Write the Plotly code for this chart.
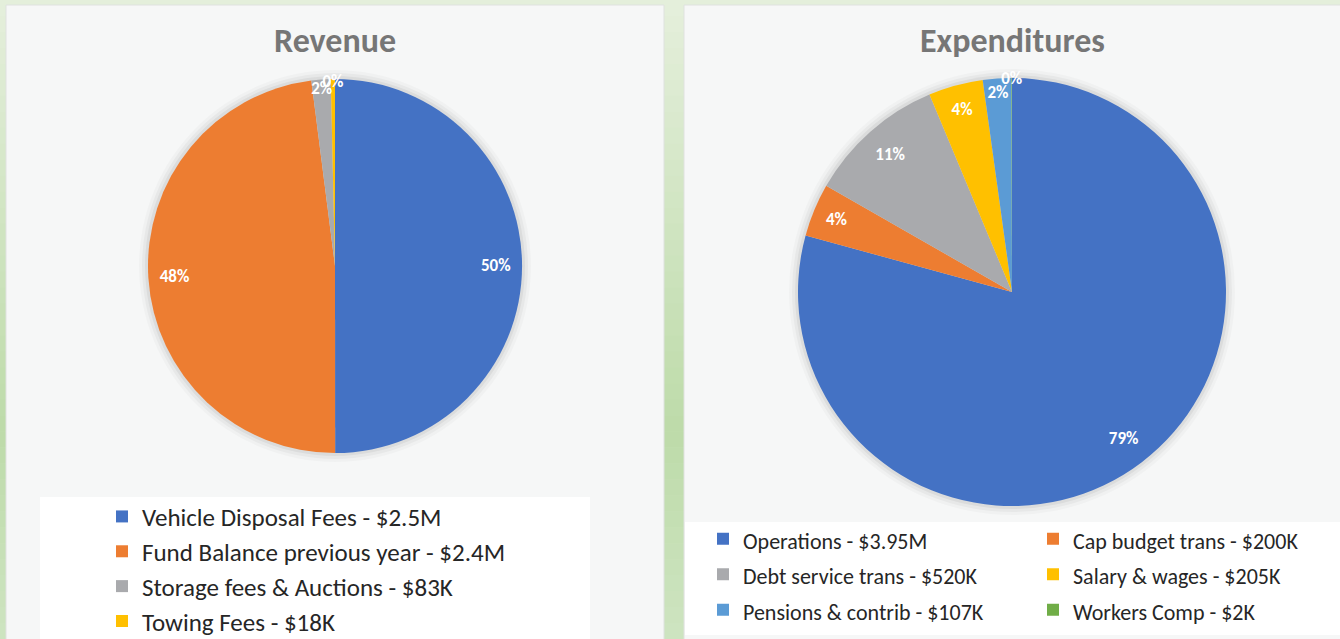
import plotly.graph_objects as go

W, H = 1340, 639

# ---------------- data ----------------
rev_title = "Revenue"
rev_labels = ["Vehicle Disposal Fees - $2.5M", "Fund Balance previous year - $2.4M",
              "Storage fees & Auctions - $83K", "Towing Fees - $18K"]
rev_values = [2500, 2400, 83, 18]          # $K
rev_pct_text = ["50%", "48%", "2%", "0%"]
rev_colors = ["#4472C4", "#ED7D31", "#A9AAAD", "#FFC000"]

exp_title = "Expenditures"
exp_labels = ["Operations - $3.95M", "Cap budget trans - $200K", "Debt service trans - $520K",
              "Salary & wages - $205K", "Pensions & contrib - $107K", "Workers Comp - $2K"]
exp_values = [3950, 200, 520, 205, 107, 2]  # $K
exp_pct_text = ["79%", "4%", "11%", "4%", "2%", "0%"]
exp_colors = ["#4472C4", "#ED7D31", "#A9AAAD", "#FFC000", "#5B9BD5", "#70AD47"]

LEG_FONT = "Calibri, Carlito, Lato, 'Noto Sans', sans-serif"
TITLE_FONT = "Calibri, Carlito, Lato, 'Open Sans', sans-serif"


def px(x):
    return x / W


def py(y):
    return 1 - y / H


def styled(names, size):
    return [f"<span style='font-size:{size}px'>{n}</span>" for n in names]


fig = go.Figure()

REV_DOM = dict(x=[px(148), px(522)], y=[py(453), py(79)])
EXP_DOM = dict(x=[px(798), px(1226)], y=[py(506), py(78)])

for labels, values, colors, dom, leg, name, fs in [
    (rev_labels, rev_values, rev_colors, REV_DOM, "legend", rev_title, 25),
    (exp_labels, exp_values, exp_colors, EXP_DOM, "legend2", exp_title, 22),
]:
    fig.add_trace(go.Pie(
        labels=styled(labels, fs), values=values, textinfo="none",
        marker=dict(colors=colors, line=dict(width=0)),
        sort=False, direction="clockwise", rotation=0,
        domain=dom, legend=leg, hoverinfo="label+percent", name=name,
    ))

# percentage labels: transparent ring over each pie so the text sits near the rim
for labels, values, texts, dom in [
    (rev_labels, rev_values, rev_pct_text, REV_DOM),
    (exp_labels, exp_values, exp_pct_text, EXP_DOM),
]:
    fig.add_trace(go.Pie(
        labels=labels, values=values, text=texts, hole=0.72,
        textinfo="text", textposition="inside", insidetextorientation="horizontal",
        textfont=dict(family=TITLE_FONT, size=17, color="white", weight="bold"),
        marker=dict(colors=["rgba(0,0,0,0)"] * len(values), line=dict(width=0)),
        sort=False, direction="clockwise", rotation=0,
        domain=dom, showlegend=False, hoverinfo="skip",
    ))

# ---------------- background decoration ----------------
shapes = []


def lerp(c1, c2, t):
    return "#%02x%02x%02x" % tuple(int(round(a + (b - a) * t)) for a, b in zip(c1, c2))


top_c, mid_c, bot_c = (229, 239, 220), (189, 219, 169), (206, 228, 193)
N = 40
for i in range(N):
    y0, y1 = i * H / N, (i + 1) * H / N + 0.5
    yc = (y0 + y1) / 2
    if yc < 430:
        c = lerp(top_c, mid_c, yc / 430)
    else:
        c = lerp(mid_c, bot_c, (yc - 430) / (H - 430))
    shapes.append(dict(type="rect", xref="paper", yref="paper", layer="below",
                       x0=0, x1=1, y0=py(y1), y1=py(y0), fillcolor=c, line=dict(width=0)))

# panels
for (x0, x1) in [(6, 664), (684, 1345)]:
    shapes.append(dict(type="rect", xref="paper", yref="paper", layer="below",
                       x0=px(x0), x1=px(x1), y0=py(645), y1=py(5),
                       fillcolor="#f6f7f7", line=dict(color="#dfe2df", width=1)))
# legend boxes
shapes.append(dict(type="rect", xref="paper", yref="paper", layer="below",
                   x0=px(40), x1=px(590), y0=py(645), y1=py(497),
                   fillcolor="#ffffff", line=dict(width=0)))
shapes.append(dict(type="rect", xref="paper", yref="paper", layer="below",
                   x0=px(685), x1=px(1345), y0=py(635), y1=py(522),
                   fillcolor="#ffffff", line=dict(width=0)))

# soft shadows around pies
for (cx, cy, r) in [(335, 266, 187), (1012, 292, 214)]:
    for k, a in [(9, 0.025), (6, 0.035), (3, 0.05)]:
        shapes.append(dict(type="circle", xref="paper", yref="paper", layer="below",
                           x0=px(cx - r - k), x1=px(cx + r + k),
                           y0=py(cy + r + k), y1=py(cy - r - k),
                           fillcolor=f"rgba(0,0,0,{a})", line=dict(width=0)))

annotations = [
    dict(text=f"<b>{rev_title}</b>", x=px(335), y=py(40), xref="paper", yref="paper",
         showarrow=False, xanchor="center", yanchor="middle",
         font=dict(family=TITLE_FONT, size=34, color="#767676")),
    dict(text=f"<b>{exp_title}</b>", x=px(1012), y=py(40), xref="paper", yref="paper",
         showarrow=False, xanchor="center", yanchor="middle",
         font=dict(family=TITLE_FONT, size=34, color="#767676")),
]

fig.update_layout(
    width=W, height=H,
    margin=dict(l=0, r=0, t=0, b=0, autoexpand=False),
    paper_bgcolor="#d4e6c8", plot_bgcolor="rgba(0,0,0,0)",
    shapes=shapes, annotations=annotations,
    uniformtext=dict(minsize=17, mode="show"),
    legend=dict(orientation="v", x=px(102), xanchor="left", y=py(494), yanchor="top",
                font=dict(family=LEG_FONT, size=24.5, color="#262626"),
                bgcolor="rgba(0,0,0,0)", borderwidth=0),
    legend2=dict(orientation="h", x=(703 + 660) / W, xanchor="right", y=py(516), yanchor="top",
                 entrywidth=285, entrywidthmode="pixels",
                 font=dict(family=LEG_FONT, size=25, color="#262626"),
                 bgcolor="rgba(0,0,0,0)", borderwidth=0),
)

fig.write_html("out.html", config={"displayModeBar": False},
               post_script="document.body.style.margin='0px';")
